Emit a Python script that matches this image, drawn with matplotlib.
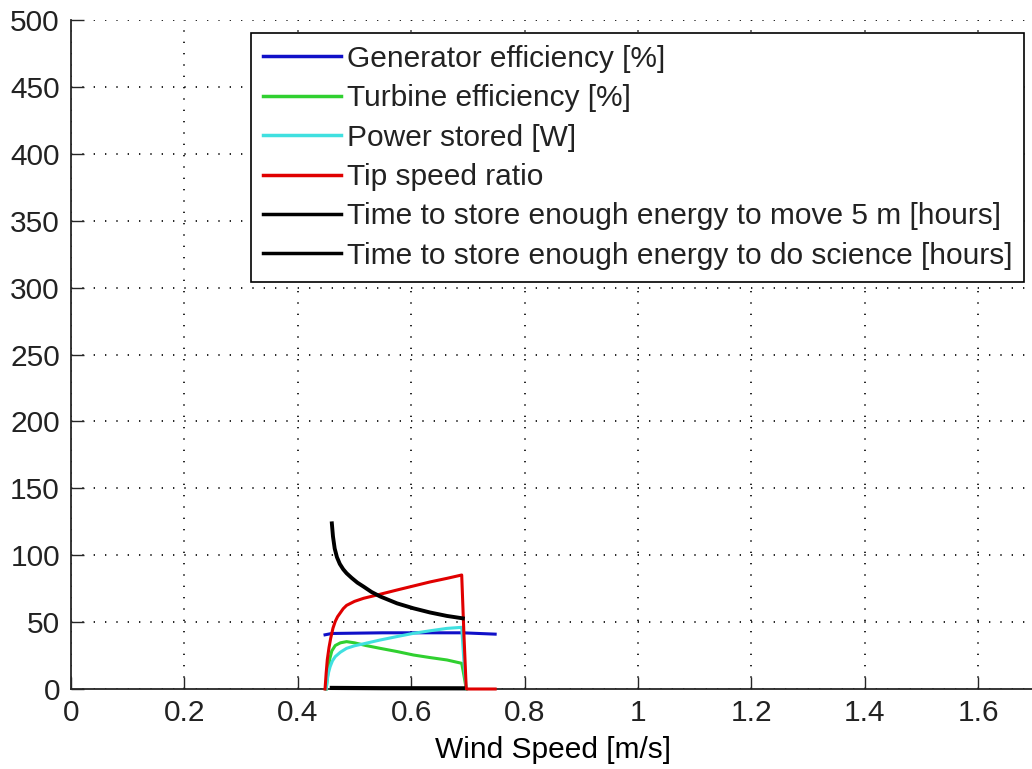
import matplotlib.pyplot as plt
from matplotlib.ticker import FormatStrFormatter, MultipleLocator

# values
gen_v = [0.448, 0.46, 0.55, 0.69, 0.748]
gen_eff = [40.5, 41.5, 42.0, 42.0, 41.0]

turb_v = [0.450, 0.453, 0.456, 0.460, 0.466, 0.475, 0.486, 0.50, 0.52, 0.545,
          0.575, 0.604, 0.633, 0.663, 0.689, 0.693, 0.697]
turb_eff = [0, 12, 22, 28.5, 32.5, 34.5, 35.4, 34.5, 32.5, 30.4,
            28, 25.4, 23.5, 21.7, 19.2, 10, 0]

pow_v = [0.450, 0.452, 0.454, 0.457, 0.461, 0.466, 0.475, 0.486, 0.50, 0.515,
         0.545, 0.575, 0.604, 0.633, 0.663, 0.689, 0.693, 0.697]
pow_stored = [0, 7, 12, 16.7, 21, 24.2, 27.5, 30.4, 32.3, 33.7,
              36.6, 39.2, 41.6, 43.5, 45.3, 46.1, 20, 0]

tsr_v = [0.448, 0.450, 0.452, 0.455, 0.458, 0.462, 0.466, 0.470, 0.475, 0.480,
         0.486, 0.50, 0.516, 0.545, 0.575, 0.604, 0.633, 0.663, 0.689, 0.693,
         0.697, 0.748]
tsr = [0, 12, 22, 31, 38, 45.5, 50.5, 54, 57, 60,
       62.5, 65.5, 67.8, 70.8, 74, 77, 80, 82.7, 85.2, 40,
       0, 0]

move_v = [0.46, 0.462, 0.465, 0.469, 0.474, 0.480, 0.486, 0.495, 0.505, 0.516,
          0.53, 0.545, 0.575, 0.604, 0.633, 0.663, 0.691]
move_hours = [123.8, 114, 105, 98.5, 93.5, 89.5, 86.5, 83, 79.5, 76.5,
              72.5, 69.2, 64, 60.3, 57.2, 54.6, 52.8]

sci_v = [0.46, 0.55, 0.691]
sci_hours = [0.8, 0.6, 0.5]

labels = ["Generator efficiency [%]", "Turbine efficiency [%]", "Power stored [W]",
          "Tip speed ratio", "Time to store enough energy to move 5 m [hours]",
          "Time to store enough energy to do science [hours]"]

plt.rcParams['font.family'] = ['Liberation Sans', 'DejaVu Sans']
plt.rcParams['font.size'] = 21.5
plt.rcParams['text.color'] = '#222222'

fig = plt.figure(figsize=(10.32, 7.69), dpi=100)
ax = fig.add_axes([71/1032, 80/769, 964/1032, 669/769])

lw = 2.2
kw = dict(clip_on=False, zorder=3)
ax.plot(gen_v, gen_eff, color='#1010c8', lw=lw, label=labels[0], **kw)
ax.plot(turb_v, turb_eff, color='#30d030', lw=lw, label=labels[1], **kw)
ax.plot(pow_v, pow_stored, color='#40e0e0', lw=lw, label=labels[2], **kw)
ax.plot(tsr_v, tsr, color='#e00000', lw=lw, label=labels[3], **kw)
ax.plot(move_v, move_hours, color='black', lw=lw + 0.6, label=labels[4], **kw)
ax.plot(sci_v, sci_hours, color='black', lw=lw + 0.8, label=labels[5], **kw)

ax.set_xlim(0, 1.7)
ax.set_ylim(0, 500)
ax.xaxis.set_major_locator(MultipleLocator(0.2))
ax.yaxis.set_major_locator(MultipleLocator(50))
ax.xaxis.set_major_formatter(FormatStrFormatter('%g'))
ax.tick_params(direction='in', length=9, width=1, colors='#262626', labelcolor='#222222', pad=7)
ax.tick_params(axis='y', pad=8)
for s in ['top', 'right']:
    ax.spines[s].set_visible(False)
for s in ['left', 'bottom']:
    ax.spines[s].set_linewidth(1.3)
    ax.spines[s].set_color('#262626')
ax.grid(True, color='black', linestyle=(0, (0.8, 6)), linewidth=1.2)
ax.set_xlabel("Wind Speed [m/s]", labelpad=7)

leg = ax.legend(loc='upper right', bbox_to_anchor=(1024/1032, 1 - 33/769),
                bbox_transform=fig.transFigure, fancybox=False, framealpha=1,
                edgecolor='black', handlelength=2.6, handletextpad=0.2,
                labelspacing=0.38, borderpad=0.4, borderaxespad=0)
leg.set_zorder(5)
leg.get_frame().set_linewidth(1.2)
for line in leg.get_lines():
    line.set_linewidth(2.5)

fig.savefig("out.png", dpi=100)
